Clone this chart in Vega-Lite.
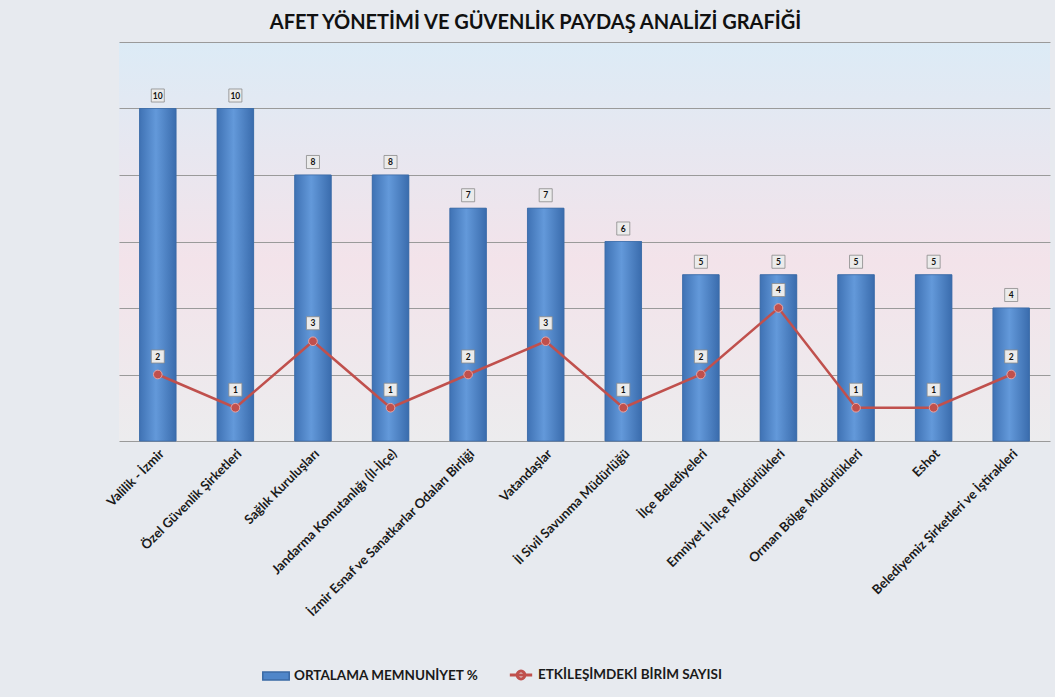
{
  "$schema": "https://vega.github.io/schema/vega-lite/v6.json",
  "width": 931,
  "height": 399,
  "autosize": {"type": "none"},
  "padding": {"left": 119, "top": 42, "right": 5, "bottom": 256},
  "background": "#e7eaef",
  "title": {
    "text": "AFET YÖNETİMİ VE GÜVENLİK PAYDAŞ ANALİZİ GRAFİĞİ",
    "font": "Lato",
    "fontSize": 20,
    "fontWeight": "bold",
    "color": "#111111",
    "anchor": "middle",
    "dx": -49,
    "offset": 9
  },
  "config": {
    "view": {
      "stroke": null,
      "fill": {
        "gradient": "linear",
        "x1": 0, "y1": 0, "x2": 0, "y2": 1,
        "stops": [
          {"offset": 0, "color": "#dcebf6"},
          {"offset": 0.55, "color": "#f3e3ea"},
          {"offset": 1, "color": "#ececee"}
        ]
      }
    },
    "font": "Lato"
  },
  "data": {
    "values": [
      {"kurum": "Valilik - İzmir", "memnuniyet": 10, "birim": 2},
      {"kurum": "Özel Güvenlik Şirketleri", "memnuniyet": 10, "birim": 1},
      {"kurum": "Sağlık Kuruluşları", "memnuniyet": 8, "birim": 3},
      {"kurum": "Jandarma Komutanlığı (İl-İlçe)", "memnuniyet": 8, "birim": 1},
      {"kurum": "İzmir Esnaf ve Sanatkarlar Odaları Birliği", "memnuniyet": 7, "birim": 2},
      {"kurum": "Vatandaşlar", "memnuniyet": 7, "birim": 3},
      {"kurum": "İl Sivil Savunma Müdürlüğü", "memnuniyet": 6, "birim": 1},
      {"kurum": "İlçe Belediyeleri", "memnuniyet": 5, "birim": 2},
      {"kurum": "Emniyet İl-İlçe Müdürlükleri", "memnuniyet": 5, "birim": 4},
      {"kurum": "Orman Bölge Müdürlükleri", "memnuniyet": 5, "birim": 1},
      {"kurum": "Eshot", "memnuniyet": 5, "birim": 1},
      {"kurum": "Belediyemiz Şirketleri ve İştirakleri", "memnuniyet": 4, "birim": 2}
    ]
  },
  "encoding": {
    "x": {
      "field": "kurum",
      "type": "nominal",
      "sort": null,
      "scale": {"paddingInner": 0.53, "paddingOuter": 0.265},
      "axis": {
        "title": null,
        "labelAngle": -45,
        "labelAlign": "right",
        "labelBaseline": "top",
        "labelFont": "Lato",
        "labelFontWeight": "bold",
        "labelFontSize": 13,
        "labelColor": "#1a1a1a",
        "labelLimit": 0,
        "labelPadding": 6,
        "domain": false,
        "ticks": false
      }
    }
  },
  "layer": [
    {
      "mark": {"type": "bar", "stroke": "#3a6aa5", "strokeWidth": 0.6},
      "encoding": {
        "y": {
          "field": "memnuniyet",
          "type": "quantitative",
          "scale": {"domain": [0, 12], "nice": false},
          "axis": {
            "title": null,
            "labels": false,
            "ticks": false,
            "domain": false,
            "grid": true,
            "gridColor": "#9a9a9a",
            "gridWidth": 1.2,
            "values": [0, 2, 4, 6, 8, 10, 12]
          }
        },
        "fill": {
          "datum": "ORTALAMA MEMNUNİYET %",
          "type": "nominal",
          "scale": {"range": ["#4f86c9"]},
          "legend": {
            "title": null,
            "orient": "none",
            "legendX": 143,
            "legendY": 620,
            "symbolType": "M-1,-0.3H1V0.3H-1Z",
            "symbolSize": 700,
            "symbolStrokeColor": "#3a6aa5",
            "labelFont": "Lato",
            "labelFontWeight": "bold",
            "labelFontSize": 13.5,
            "labelLimit": 0,
            "labelColor": "#1a1a1a"
          }
        }
      }
    },
    {
      "mark": {
        "type": "bar",
        "stroke": "#3a6aa5",
        "strokeWidth": 0.6,
        "fill": {
          "gradient": "linear",
          "x1": 0, "y1": 0, "x2": 1, "y2": 0,
          "stops": [
            {"offset": 0, "color": "#3f72b4"},
            {"offset": 0.45, "color": "#6399da"},
            {"offset": 1, "color": "#3a6cad"}
          ]
        }
      },
      "encoding": {"y": {"field": "memnuniyet", "type": "quantitative"}}
    },
    {
      "mark": {"type": "point", "shape": "square", "filled": true, "fill": "#ebebeb", "stroke": "#8a8a8a", "strokeWidth": 0.8, "size": 170, "yOffset": -13, "opacity": 1},
      "encoding": {"y": {"field": "memnuniyet", "type": "quantitative"}}
    },
    {
      "mark": {"type": "text", "dy": -13, "fontSize": 8.5, "fontWeight": "bold", "color": "#111111", "font": "Lato"},
      "encoding": {
        "y": {"field": "memnuniyet", "type": "quantitative"},
        "text": {"field": "memnuniyet", "type": "quantitative"}
      }
    },
    {
      "mark": {"type": "line", "strokeWidth": 2.5},
      "encoding": {
        "y": {"field": "birim", "type": "quantitative"},
        "stroke": {
          "datum": "ETKİLEŞİMDEKİ BİRİM SAYISI",
          "type": "nominal",
          "scale": {"range": ["#c0504d"]},
          "legend": {
            "title": null,
            "orient": "none",
            "legendX": 389,
            "legendY": 620,
            "symbolType": "M-1,0H1M0.35,0A0.35,0.35 0 1 1 -0.35,0A0.35,0.35 0 1 1 0.35,0",
            "symbolSize": 500,
            "symbolStrokeWidth": 3,
            "labelFont": "Lato",
            "labelFontWeight": "bold",
            "labelFontSize": 13.5,
            "labelLimit": 0,
            "labelColor": "#1a1a1a"
          }
        }
      }
    },
    {
      "mark": {"type": "point", "shape": "circle", "filled": true, "fill": "#c0504d", "stroke": "#e9a3a1", "strokeWidth": 1, "size": 75, "opacity": 1},
      "encoding": {"y": {"field": "birim", "type": "quantitative"}}
    },
    {
      "mark": {"type": "point", "shape": "square", "filled": true, "fill": "#ebebeb", "stroke": "#8a8a8a", "strokeWidth": 0.8, "size": 170, "yOffset": -18, "opacity": 1},
      "encoding": {"y": {"field": "birim", "type": "quantitative"}}
    },
    {
      "mark": {"type": "text", "dy": -18, "fontSize": 8.5, "fontWeight": "bold", "color": "#111111", "font": "Lato"},
      "encoding": {
        "y": {"field": "birim", "type": "quantitative"},
        "text": {"field": "birim", "type": "quantitative"}
      }
    }
  ]
}
